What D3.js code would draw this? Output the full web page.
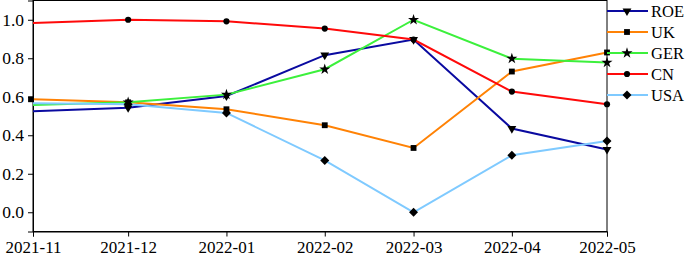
<!DOCTYPE html>
<html>
<head>
<meta charset="utf-8">
<script src="https://cdn.jsdelivr.net/npm/d3@7"></script>
<style>
html,body{margin:0;padding:0;background:#fff;}
svg{display:block;}
</style>
</head>
<body>
<svg id="chart" width="685" height="256"></svg>
<script>
const months = ["2021-11","2021-12","2022-01","2022-02","2022-03","2022-04","2022-05"];
const seriesNames = ["ROE","UK","GER","CN","USA"];
const ROE = [0.525,0.543,0.604,0.816,0.897,0.435,0.326];
const UK  = [0.587,0.571,0.535,0.452,0.334,0.731,0.830];
const GER = [0.557,0.571,0.611,0.743,1.000,0.798,0.778];
const CN  = [0.983,1.000,0.992,0.954,0.897,0.627,0.561];
const USA = [0.566,0.561,0.516,0.269,0.000,0.296,0.370];
const yTicks = [0.0,0.2,0.4,0.6,0.8,1.0];
const colors = ["#0a0aa0","#ff8205","#3cf03c","#ff0a0a","#7fcaff"];
const symbols = ["triangleDown","square","star","circle","diamond"];
const values = [ROE,UK,GER,CN,USA];
const FONT = '"Liberation Serif"';

const svg = d3.select("#chart");
const m = {left:33, right:607, top:0.5, bottom:231.5};
const parse = d3.timeParse("%Y-%m");
const dates = months.map(parse);
const x = d3.scaleTime().domain(d3.extent(dates)).range([m.left, m.right]);
const y = d3.scaleLinear().domain([-0.1,1.1]).range([m.bottom, m.top]);

// frame
svg.append("rect").attr("x",m.left).attr("y",m.top).attr("width",m.right-m.left).attr("height",m.bottom-m.top)
  .attr("fill","none").attr("stroke","#000").attr("stroke-width",1);

// axes
const xa = svg.append("g").attr("transform",`translate(0,${m.bottom})`)
  .call(d3.axisBottom(x).tickValues(dates).tickFormat(d3.timeFormat("%Y-%m")).tickSize(5).tickPadding(4));
xa.selectAll("text").style("font-family", FONT).style("font-size","17px").attr("fill","#000");
const ya = svg.append("g").attr("transform",`translate(${m.left},0)`)
  .call(d3.axisLeft(y).tickValues(yTicks).tickFormat(d3.format(".1f")).tickSize(5).tickPadding(4));
ya.selectAll("text").style("font-family", FONT).style("font-size","17.5px").attr("fill","#000");
svg.selectAll(".domain").attr("stroke","#000");
svg.selectAll(".tick line").attr("stroke","#000");

const diamond = {draw(ctx, size){ const r = Math.sqrt(size/2); ctx.moveTo(0,-r); ctx.lineTo(r,0); ctx.lineTo(0,r); ctx.lineTo(-r,0); ctx.closePath(); }};
function sym(name, size){
  const map = {square:d3.symbolSquare, star:d3.symbolStar, circle:d3.symbolCircle, diamond:diamond, triangleDown:d3.symbolTriangle};
  return d3.symbol().type(map[name]).size(size)();
}
const sizes = {square:34, star:38, circle:30, diamond:40, triangleDown:34};
function addMarker(g, name, cx, cy){
  g.append("path").attr("d", sym(name, sizes[name]))
    .attr("transform", `translate(${cx},${cy})` + (name==="triangleDown" ? " rotate(180)" : ""))
    .attr("fill","#000");
}

const line = d3.line().x((d,i)=>x(dates[i])).y(d=>y(d));
values.forEach((vals, si)=>{
  const g = svg.append("g");
  g.append("path").datum(vals).attr("d", line).attr("fill","none")
    .attr("stroke", colors[si]).attr("stroke-width", 2);
  vals.forEach((v,i)=>{
    if (i===0 && seriesNames[si]!=="UK") return;
    addMarker(g, symbols[si], x(dates[i]) - (i===0 ? 2 : 0), y(v));
  });
});

// legend
const legY = d3.scalePoint().domain(seriesNames).range([11, 95]);
seriesNames.forEach((n, si)=>{
  const ly = legY(n);
  svg.append("line").attr("x1", 607).attr("x2", 648).attr("y1", ly).attr("y2", ly)
    .attr("stroke", colors[si]).attr("stroke-width", 2);
  addMarker(svg, symbols[si], 627, ly);
  svg.append("text").attr("x", 651).attr("y", ly).attr("dy","0.35em")
    .style("font-family", FONT).style("font-size","16.5px").attr("fill","#000").text(n);
});
</script>
</body>
</html>
